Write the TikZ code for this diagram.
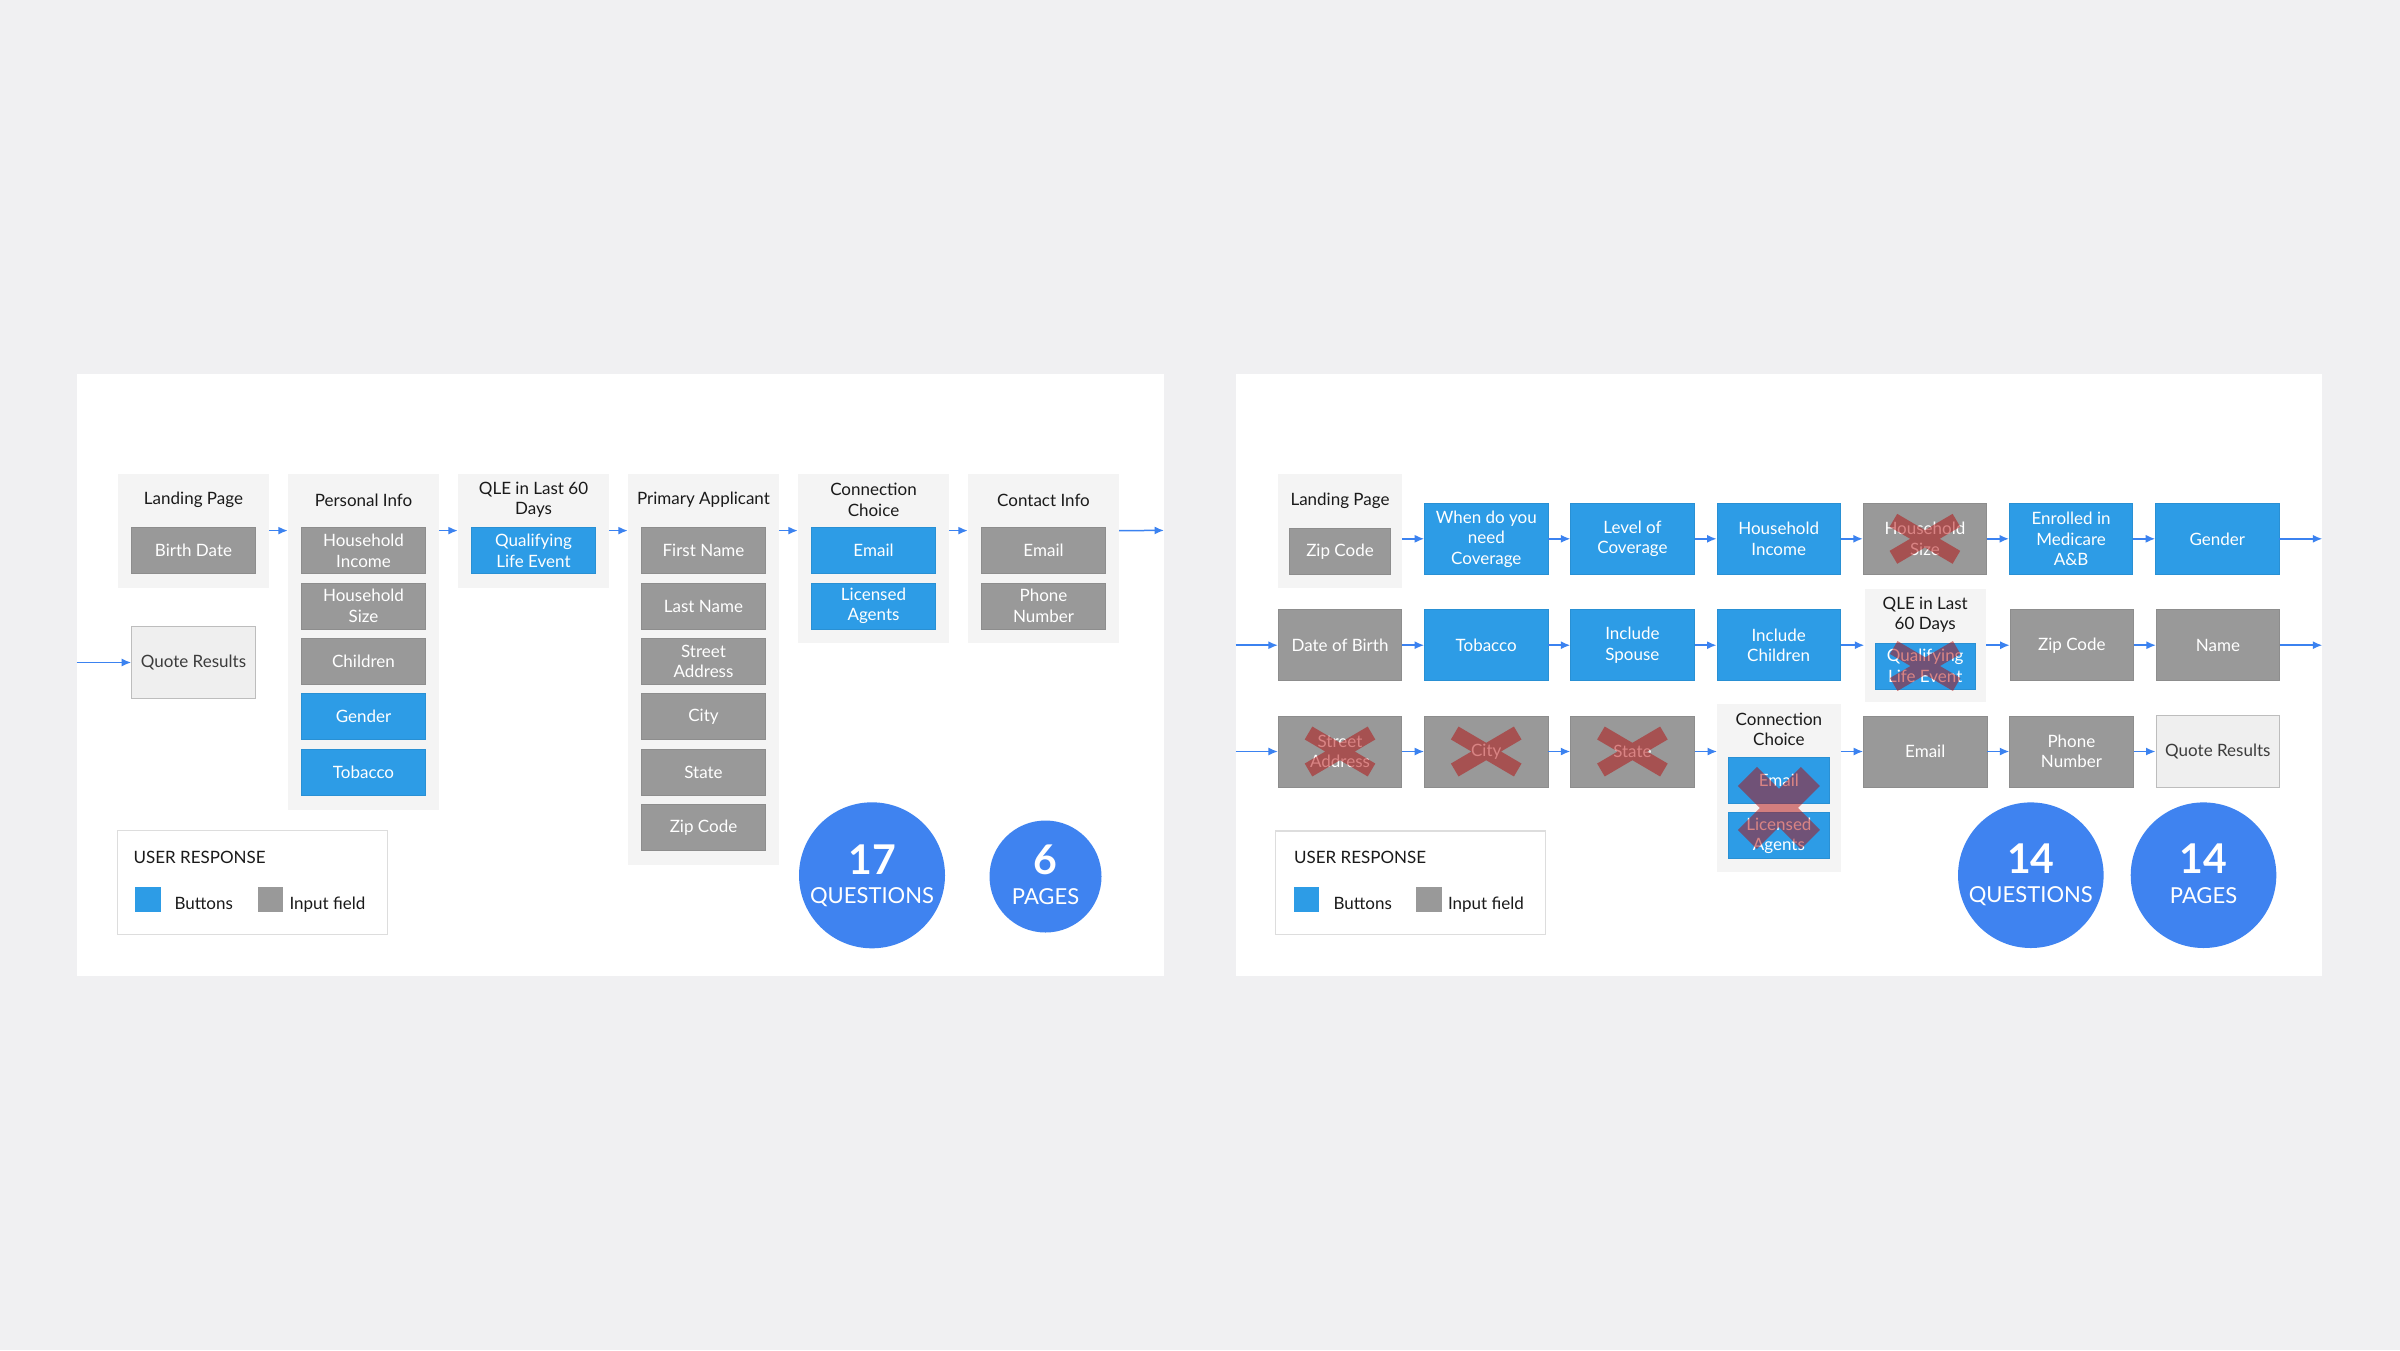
\documentclass[tikz,border=0pt]{standalone}
\usepackage{fontspec}
\setmainfont{Lato}
\usepackage{xcolor}
\definecolor{pageBg}{HTML}{F0F0F2}
\definecolor{groupBg}{HTML}{F4F4F4}
\definecolor{fieldGray}{HTML}{999999}
\definecolor{buttonBlue}{HTML}{2D9CE6}
\definecolor{statBlue}{HTML}{3F83F0}
\definecolor{flowBlue}{HTML}{3B82F0}
\definecolor{resultFill}{HTML}{EFEFEF}
\definecolor{resultDraw}{HTML}{BDBDBD}
\definecolor{legendDraw}{HTML}{DDDDDD}
\definecolor{crossRed}{HTML}{B40A0A}
\definecolor{labelText}{HTML}{1A1A1A}
\usepackage{tikz}
\usetikzlibrary{arrows.meta,positioning,calc}

\begin{document}
\begin{tikzpicture}[x=1pt, y=-1pt,
			node distance=8.5pt,
			field/.style={rectangle, fill=fieldGray, draw=fieldGray!92!black, line width=0.8pt, text=white,
				minimum width=123.4pt, minimum height=46pt, inner sep=0pt, align=center,
				font=\fontsize{17}{20.5}\selectfont},
			button/.style={field, fill=buttonBlue, draw=buttonBlue!92!black},
			tall/.style={minimum height=71pt},
			narrow/.style={minimum width=100.6pt},
			group/.style={rectangle, fill=groupBg, anchor=north, minimum width=151pt, inner sep=0pt},
			grouptitle/.style={text=labelText, align=center, font=\fontsize{17}{20.5}\selectfont},
			result/.style={field, fill=resultFill, draw=resultDraw, line width=1.2pt, text=labelText!85,
				minimum height=71.6pt},
			arrow/.style={-{Latex[length=9.5pt,width=8pt]}, line width=1.5pt, flowBlue},
			stat/.style={circle, fill=statBlue, inner sep=0pt},
			statnum/.style={text=white, font=\fontsize{41}{41}\selectfont\bfseries},
			statword/.style={text=white, font=\fontsize{22}{22}\selectfont},
			legend/.style={rectangle, draw=legendDraw, line width=1.2pt, fill=white,
				minimum width=269.5pt, minimum height=103.5pt},
			swatch/.style={rectangle, minimum width=25.5pt, minimum height=25pt, inner sep=0pt},
			legendtext/.style={text=labelText, anchor=base west, font=\fontsize{17}{20}\selectfont},
			xmark/.style={draw=crossRed, draw opacity=0.5, line width=15pt}
			]
			\fill[pageBg] (0,0) rectangle (2400,1350);
			\fill[white] (76.5,374) rectangle (1164,975.5);
			\fill[white] (1235.5,374) rectangle (2322.3,975.5);

			\node[group, minimum height=114.2pt] (landG) at (193.5,473.3) {};
			\node[grouptitle] at ([yshift=-26.7pt]landG.north) {Landing Page};
			\node[field] (birthL) at ([yshift=-77.4pt]landG.north) {Birth Date};
			\node[result] (quoteL) at (193.5,662.5) {Quote Results};

			\node[group, minimum height=336.2pt] (persG) at (363.5,473.3) {};
			\node[grouptitle] at ([yshift=-26.7pt]persG.north) {Personal Info};
			\node[field] (hhIncomeL) at ([yshift=-77.4pt]persG.north) {Household\\Income};
			\node[field, below=of hhIncomeL] (hhSizeL) {Household\\Size};
			\node[field, below=of hhSizeL] (childrenL) {Children};
			\node[button, below=of childrenL] (genderL) {Gender};
			\node[button, below=of genderL] (tobaccoL) {Tobacco};

			\node[group, minimum height=114.2pt] (qleG) at (533.5,473.3) {};
			\node[grouptitle] at ([yshift=-26.2pt]qleG.north) {QLE in Last 60\\Days};
			\node[button] (qualL) at ([yshift=-77.4pt]qleG.north) {Qualifying\\Life Event};

			\node[group, minimum height=391pt] (primG) at (703.5,473.3) {};
			\node[grouptitle] at ([yshift=-26.7pt]primG.north) {Primary Applicant};
			\node[field] (firstL) at ([yshift=-77.4pt]primG.north) {First Name};
			\node[field, below=of firstL] (lastL) {Last Name};
			\node[field, below=of lastL] (streetL) {Street\\Address};
			\node[field, below=of streetL] (cityL) {City};
			\node[field, below=of cityL] (stateL) {State};
			\node[field, below=of stateL] (zipL) {Zip Code};

			\node[group, minimum height=169.7pt] (connG) at (873.5,473.3) {};
			\node[grouptitle] at ([yshift=-26.7pt]connG.north) {Connection\\Choice};
			\node[button] (emailConnL) at ([yshift=-77.4pt]connG.north) {Email};
			\node[button, below=of emailConnL] (agentsL) {Licensed\\Agents};

			\node[group, minimum height=169.7pt] (contactG) at (1043.5,473.3) {};
			\node[grouptitle] at ([yshift=-26.7pt]contactG.north) {Contact Info};
			\node[field] (emailL) at ([yshift=-77.4pt]contactG.north) {Email};
			\node[field, below=of emailL] (phoneL) {Phone\\Number};

			\coordinate (leftIn) at (76.5,662.5);
			\coordinate (leftOut) at (1164,530.4);
			\draw[arrow] (landG) -- (landG -| persG.west);
			\draw[arrow] (qleG -| persG.east) -- (qleG);
			\draw[arrow] (qleG) -- (qleG -| primG.west);
			\draw[arrow] (qleG -| primG.east) -- (qleG -| connG.west);
			\draw[arrow] (qleG -| connG.east) -- (qleG -| contactG.west);
			\draw[arrow] (qleG -| contactG.east) -- (leftOut);
			\draw[arrow] (leftIn) -- (quoteL);

			\node[legend] (legendL) at (252.5,882.5) {};
			\node[legendtext] at (130,863) {USER RESPONSE};
			\node[swatch, fill=buttonBlue] (swButtonL) at (148,899.5) {};
			\node[legendtext] at (171,909) {Buttons};
			\node[swatch, fill=fieldGray] (swFieldL) at (270.5,899.5) {};
			\node[legendtext] at (286,909) {Input field};

			\node[stat, minimum size=146pt] (questL) at (872,875.3) {};
			\node[statnum] at ([yshift=15.3pt]questL.center) {17};
			\node[statword] at ([yshift=-21.4pt]questL.center) {QUESTIONS};
			\node[stat, minimum size=112pt] (pagesL) at (1045.5,876.5) {};
			\node[statnum] at ([yshift=16.5pt]pagesL.center) {6};
			\node[statword] at ([yshift=-20.2pt]pagesL.center) {PAGES};

			\node[group, minimum width=123.8pt, minimum height=113.7pt] (landRG) at (1340,474) {};
			\node[grouptitle] at ([yshift=-26.7pt]landRG.north) {Landing Page};
			\node[field, narrow] (zipR1) at ([yshift=-77.3pt]landRG.north) {Zip Code};
			\node[button, tall] (whenR) at (1486.3,538.8) {When do you\\need\\Coverage};
			\node[button, tall, right=22pt of whenR] (levelR) {Level of\\Coverage};
			\node[button, tall, right=22pt of levelR] (hhIncomeR) {Household\\Income};
			\node[field, tall, right=22pt of hhIncomeR] (hhSizeR) {Household\\Size};
			\node[button, tall, right=22pt of hhSizeR] (medicareR) {Enrolled in\\Medicare\\A\&B};
			\node[button, tall, right=22pt of medicareR] (genderR) {Gender};

			\node[field, tall] (birthR) at (1340,645.2) {Date of Birth};
			\node[button, tall, right=22pt of birthR] (tobaccoR) {Tobacco};
			\node[button, tall, right=22pt of tobaccoR] (spouseR) {Include\\Spouse};
			\node[button, tall, right=22pt of spouseR] (childrenR) {Include\\Children};
			\node[group, minimum width=121.4pt, minimum height=113.4pt, right=23.6pt of childrenR] (qleRG) {};
			\node[grouptitle] at ([yshift=-26.4pt]qleRG.north) {QLE in Last\\60 Days};
			\node[button, narrow] (qualR) at ([yshift=-77.7pt]qleRG.north) {Qualifying\\Life Event};
			\node[field, tall] (zipR2) at (2071.8,645.2) {Zip Code};
			\node[field, tall, right=22pt of zipR2] (nameR) {Name};

			\node[field, tall] (streetR) at (1340,751.5) {Street\\Address};
			\node[field, tall, right=22pt of streetR] (cityR) {City};
			\node[field, tall, right=22pt of cityR] (stateR) {State};
			\node[group, minimum width=123.3pt, minimum height=168.4pt] (connRG) at (1778.9,703.3) {};
			\node[grouptitle] at ([yshift=-26pt]connRG.north) {Connection\\Choice};
			\node[button, narrow] (emailConnR) at ([yshift=-77pt]connRG.north) {Email};
			\node[button, narrow, below=of emailConnR] (agentsR) {Licensed\\Agents};
			\node[field, tall] (emailR) at (1925.2,751.5) {Email};
			\node[field, tall, right=22pt of emailR] (phoneR) {Phone\\Number};
			\node[result, right=22pt of phoneR] (quoteR) {Quote Results};

			\coordinate (rowTwoIn) at (1235.5,645.2);
			\coordinate (rowThreeIn) at (1235.5,751.5);
			\coordinate (rowOneOut) at (2322.3,538.8);
			\coordinate (rowTwoOut) at (2322.3,645.2);
			\draw[arrow] (landRG.east |- whenR) -- (whenR);
			\foreach \a/\b in {whenR/levelR, levelR/hhIncomeR, hhIncomeR/hhSizeR, hhSizeR/medicareR,
				medicareR/genderR, birthR/tobaccoR, tobaccoR/spouseR, spouseR/childrenR, childrenR/qleRG,
				qleRG/zipR2, zipR2/nameR, streetR/cityR, cityR/stateR, emailR/phoneR, phoneR/quoteR}
				\draw[arrow] (\a) -- (\b);
			\draw[arrow] (stateR) -- (stateR -| connRG.west);
			\draw[arrow] (connRG.east |- emailR) -- (emailR);
			\draw[arrow] (genderR) -- (rowOneOut);
			\draw[arrow] (nameR) -- (rowTwoOut);
			\draw[arrow] (rowTwoIn) -- (birthR);
			\draw[arrow] (rowThreeIn) -- (streetR);

			\foreach \n in {hhSizeR, streetR, cityR, stateR, qualR}
				\draw[xmark] ([shift={(-31.5pt,18.5pt)}]\n.center) -- ([shift={(31.5pt,-18.5pt)}]\n.center)
					([shift={(-31.5pt,-18.5pt)}]\n.center) -- ([shift={(31.5pt,18.5pt)}]\n.center);
			\coordinate (connX) at ($(emailConnR)!0.5!(agentsR)$);
			\draw[xmark, line width=27pt] ([shift={(-31.5pt,31.5pt)}]connX) -- ([shift={(31.5pt,-31.5pt)}]connX)
				([shift={(-31.5pt,-31.5pt)}]connX) -- ([shift={(31.5pt,31.5pt)}]connX);

			\node[legend] (legendR) at (1410.5,882.8) {};
			\node[legendtext] at (1290.5,863) {USER RESPONSE};
			\node[swatch, fill=buttonBlue] (swButtonR) at (1306.5,899.5) {};
			\node[legendtext] at (1330,909) {Buttons};
			\node[swatch, fill=fieldGray] (swFieldR) at (1429,899.5) {};
			\node[legendtext] at (1444.5,909) {Input field};

			\node[stat, minimum size=145.6pt] (questR) at (2030.8,875.2) {};
			\node[statnum] at ([yshift=16.9pt]questR.center) {14};
			\node[statword] at ([yshift=-20.5pt]questR.center) {QUESTIONS};
			\node[stat, minimum size=145.6pt] (pagesR) at (2203.5,875.2) {};
			\node[statnum] at ([yshift=16.9pt]pagesR.center) {14};
			\node[statword] at ([yshift=-20.5pt]pagesR.center) {PAGES};
		\end{tikzpicture}
\end{document}
